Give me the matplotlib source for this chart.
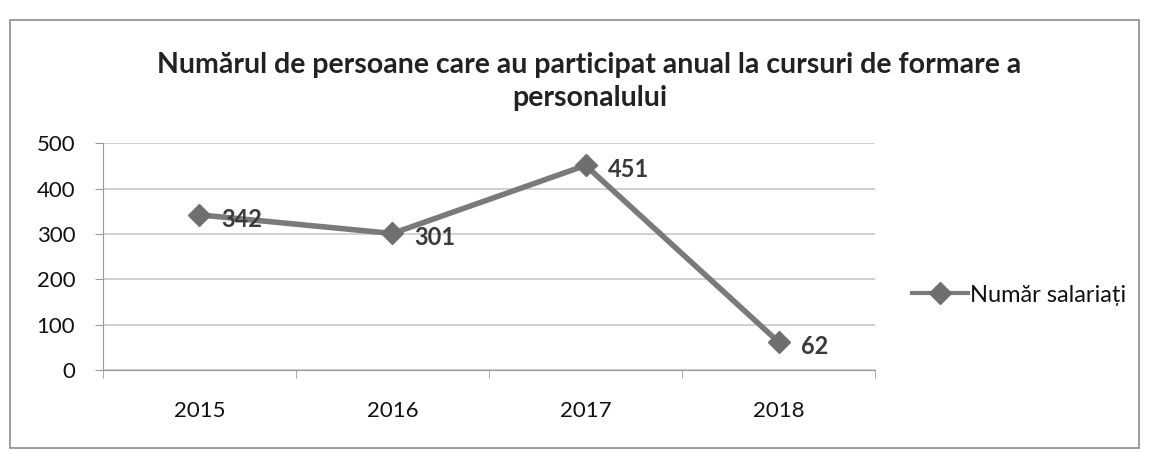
import matplotlib.pyplot as plt
from matplotlib.patches import Rectangle

years = ['2015', '2016', '2017', '2018']
salariati = [342, 301, 451, 62]
yticks = [0, 100, 200, 300, 400, 500]

plt.rcParams['font.family'] = ['Lato', 'DejaVu Sans']

fig = plt.figure(figsize=(11.49, 4.53), dpi=100)

# chart border
fig.patches.append(Rectangle((0.009, 0.01), 0.982, 0.945, transform=fig.transFigure,
                             fill=False, edgecolor='#8c8c8c', linewidth=1.2))

ax = fig.add_axes([0.0896, 0.183, 0.672, 0.501])
x = range(len(years))
ax.plot(x, salariati, color='#7a7a7a', linewidth=4, marker='D', markersize=11,
        markerfacecolor='#6f6f6f', markeredgecolor='#6f6f6f', label='Număr salariați')

for xi, v in zip(x, salariati):
    ax.annotate(str(v), (xi, v), xytext=(16, -3), textcoords='offset points',
                ha='left', va='center', fontsize=17, fontweight='bold', color='#3a3a3a')

ax.set_xlim(-0.5, len(years) - 0.5)
ax.set_ylim(0, 500)
ax.set_yticks(yticks)
ax.set_xticks(list(x))
ax.set_xticklabels(years)
ax.set_xticks([i + 0.5 for i in range(-1, len(years))], minor=True)
ax.grid(axis='y', color='#c8c8c8', linewidth=1.2)
ax.set_axisbelow(True)
for side in ['top', 'right']:
    ax.spines[side].set_visible(False)
ax.spines['left'].set_color('#9a9a9a')
ax.spines['bottom'].set_color('#9a9a9a')
ax.tick_params(axis='y', length=6, color='#9a9a9a', labelsize=16, labelcolor='#111111', pad=14)
ax.tick_params(axis='x', which='major', length=0, labelsize=16, labelcolor='#111111', pad=22)
ax.tick_params(axis='x', which='minor', length=6, color='#9a9a9a')

leg = ax.legend(loc='center left', bbox_to_anchor=(1.02, 0.33), frameon=False, fontsize=17,
                handlelength=2.4, handletextpad=0.05, labelcolor='#111111')
leg.get_lines()[0].set_linewidth(3)

fig.text(0.513, 0.821, 'Numărul de persoane care au participat anual la cursuri de formare a\npersonalului',
         ha='center', va='center', fontsize=20.5, fontweight='bold', color='#222222', linespacing=1.33)

fig.savefig('out.png', dpi=100)
